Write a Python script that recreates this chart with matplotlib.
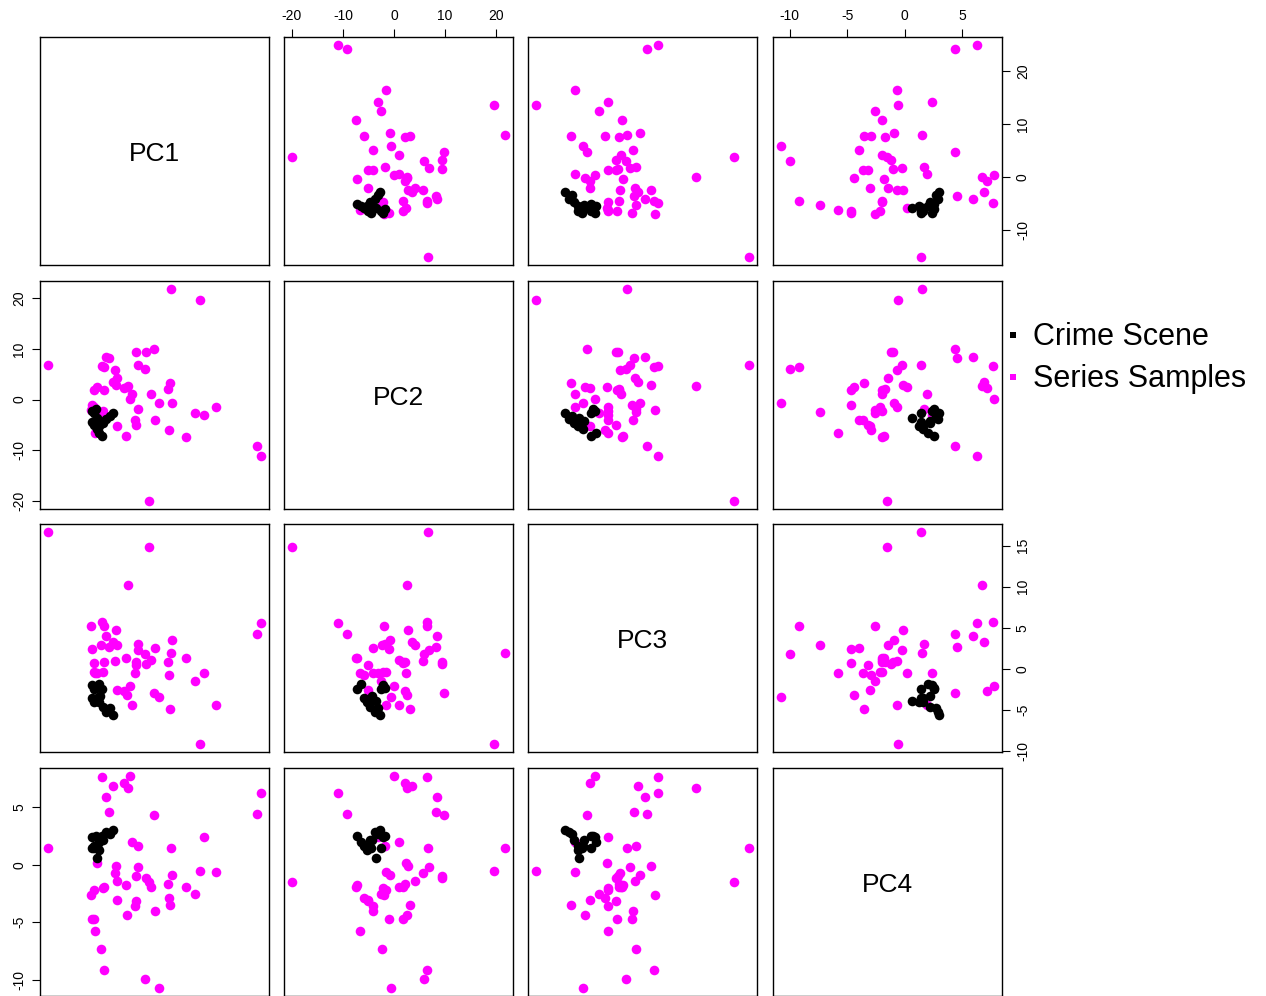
import matplotlib
matplotlib.use('Agg')
import matplotlib.pyplot as plt

plt.rcParams['font.family'] = ['Liberation Sans', 'DejaVu Sans']
plt.rcParams['axes.unicode_minus'] = False

# series samples (magenta)
pc1_series = [24.8, 24.2, 16.4, 14.2, 13.5, 12.45, 10.75, 8.24, 8.0, 7.8, 7.7, 7.5,
              5.8, 5.03, 4.78, 4.2, 3.84, 3.27, 3.08, 1.76, 1.82, 1.51, 1.26, 1.4,
              0.63, 0.0, 0.3, -0.44, -0.2, -0.75, -2.14, -2.39, -2.14, -2.45, -2.89,
              -3.58, -4.15, -4.9, -4.6, -4.6, -4.8, -5.2, -5.9, -6.3, -6.4, -6.85,
              -7.04, -6.5, -15.0]
pc2_series = [-11.05, -9.2, -1.5, -3.1, 19.7, -2.57, -7.37, -0.7, 21.7, 3.2, -5.9, 2.1,
              -0.6, -4.08, 9.87, 1.05, -19.9, 9.34, 5.99, 6.84, -1.78, 9.34, -4.08, -5.0,
              1.05, 2.6, 0.1, -7.24, 2.5, 2.2, -5.13, 2.83, 4.2, 5.79, 3.55,
              8.22, 8.36, 6.58, 6.45, 1.84, -2.2, -2.4, 2.43, -6.58, 1.84, -0.99,
              -1.97, -1.5, 6.78]
pc3_series = [5.58, 4.28, -4.44, -0.48, -9.1, -1.53, 1.29, 3.5, 1.9, -4.9, -0.8, 0.85,
              -3.47, 2.55, -2.99, 1.13, 14.8, 0.53, 1.78, 2.26, 3.0, 0.81, -0.48, 0.49,
              -4.44, 10.2, -2.06, 1.37, -3.19, -2.67, -2.63, 4.77, 2.87, 0.97, 3.23,
              2.71, 4.0, 5.66, 5.17, 0.85, -0.44, 2.95, -0.5, -0.45, 0.65, 2.43,
              5.25, -0.4, 16.6]
pc4_series = [6.3, 4.39, -0.66, 2.4, -0.58, -2.57, -1.94, -0.9, 1.5, -3.5, -2.9, -1.7,
              -10.7, -3.99, 4.36, -1.94, -1.53, -1.18, -9.97, -0.2, 1.65, -1.0, -3.61, -3.15,
              1.97, 6.7, 7.7, -1.79, -4.39, 7.1, -3.06, -0.12, -1.45, -0.69, 6.85,
              4.57, 5.92, 7.66, -9.19, -1.94, -1.99, -7.37, 0.17, -5.78, -4.71, -4.71,
              -2.6, -2.17, 1.42]

# crime scene (black)
pc1_crime = [-2.8, -3.4, -4.2, -4.8, -5.0, -5.5, -5.9, -6.4, -6.8, -5.9, -6.5, -6.8, -5.5, -5.3, -6.0]
pc2_crime = [-2.7, -3.2, -3.8, -4.6, -7.2, -6.5, -5.8, -5.1, -4.5, -3.6, -2.6, -2.2, -5.3, -4.3, -1.8]
pc3_crime = [-5.6, -4.8, -5.2, -4.6, -2.5, -1.9, -3.5, -4.1, -3.6, -3.9, -2.5, -2.0, -4.1, -3.3, -2.3]
pc4_crime = [3.0, 2.7, 2.9, 2.2, 2.5, 2.0, 1.6, 1.6, 1.45, 0.6, 1.45, 2.4, 1.25, 2.2, 2.5]

names = ['PC1', 'PC2', 'PC3', 'PC4']
tick_vals = [[-10, 0, 10, 20], [-20, -10, 0, 10, 20], [-10, -5, 0, 5, 10, 15], [-10, -5, 0, 5]]

series = [pc1_series, pc2_series, pc3_series, pc4_series]
crime = [pc1_crime, pc2_crime, pc3_crime, pc4_crime]

MAG = '#ff00ff'
W, H = 1266, 996
fig = plt.figure(figsize=(W / 100, H / 100), dpi=100, facecolor='white')

# R-style 4% padding on each variable's range
lims = []
for k in range(4):
    vals = series[k] + crime[k]
    lo, hi = min(vals), max(vals)
    pad = 0.04 * (hi - lo)
    lims.append((lo - pad, hi + pad))

col_x = [40, 284, 528, 773]
row_y = [37, 281, 524, 768]
pw, ph = 229, 228

for i in range(4):
    for j in range(4):
        ax = fig.add_axes([col_x[j] / W, 1 - (row_y[i] + ph) / H, pw / W, ph / H])
        ax.set_xlim(lims[j])
        ax.set_ylim(lims[i])
        for s in ax.spines.values():
            s.set_linewidth(1.0)
            s.set_color('black')
        ax.set_xticks([])
        ax.set_yticks([])
        if i == j:
            ax.text(0.5, 0.485, names[i], transform=ax.transAxes, ha='center',
                    va='center', fontsize=19)
        else:
            ax.scatter(series[j], series[i], s=48, color=MAG, linewidths=0, zorder=2)
            ax.scatter(crime[j], crime[i], s=48, color='black', linewidths=0, zorder=3)

        if i == 0 and j in (1, 3):
            ax.xaxis.set_ticks_position('top')
            ax.set_xticks(tick_vals[j])
            ax.tick_params(axis='x', top=True, bottom=False, labeltop=True,
                           labelbottom=False, length=6, width=0.8, pad=4, labelsize=10)
        if j == 3 and i in (0, 2):
            ax.yaxis.set_ticks_position('right')
            ax.set_yticks(tick_vals[i])
            ax.tick_params(axis='y', right=True, left=False, labelright=True,
                           labelleft=False, length=6, width=0.8, pad=4, labelsize=10)
            plt.setp(ax.get_yticklabels(), rotation=90, va='center')
        if j == 0 and i in (1, 3):
            ax.set_yticks(tick_vals[i])
            ax.tick_params(axis='y', length=6, width=0.8, pad=4, labelsize=10)
            plt.setp(ax.get_yticklabels(), rotation=90, va='center')

# legend
leg = fig.add_axes([0, 0, 1, 1])
leg.set_xlim(0, W)
leg.set_ylim(H, 0)
leg.axis('off')
leg.scatter([1013], [335], marker='s', s=22, color='black', linewidths=0)
leg.scatter([1013], [377], marker='s', s=22, color=MAG, linewidths=0)
leg.text(1033, 337, 'Crime Scene', fontsize=22, va='center', ha='left')
leg.text(1033, 379, 'Series Samples', fontsize=22, va='center', ha='left')

fig.savefig('out.png', dpi=100, facecolor='white')
